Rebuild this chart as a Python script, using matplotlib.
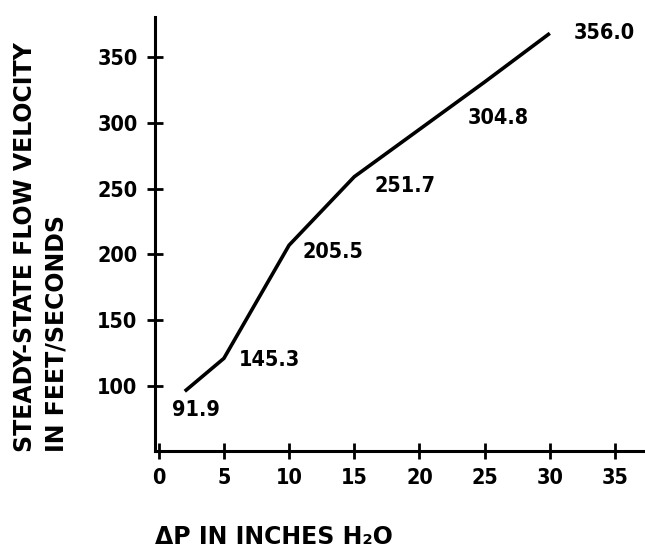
import matplotlib
matplotlib.use("Agg")
import matplotlib.pyplot as plt

# pressure drop (inches H2O) vs steady-state velocity (ft/s)
dp = [2, 5, 10, 15, 20, 25, 30]
velocity = [96, 121, 207, 259, 295, 331, 368]

# printed value labels and which point each one sits next to
label_text = ["91.9", "145.3", "205.5", "251.7", "304.8", "356.0"]
label_at = [0, 1, 2, 3, 5, 6]
label_offset = [(11, -19), (46, -2), (44, -7), (51, -9), (14, -36), (54, 0)]

x_ticks = [0, 5, 10, 15, 20, 25, 30, 35]
y_ticks = [100, 150, 200, 250, 300, 350]

font = dict(family="DejaVu Sans", weight="bold")

fig = plt.figure(figsize=(6.45, 5.48), dpi=100)
ax = fig.add_axes([0.240, 0.177, 0.760, 0.792])

ax.plot(dp, velocity, color="black", linewidth=2.6, solid_capstyle="butt")

for txt, i, off in zip(label_text, label_at, label_offset):
    ax.annotate(txt, (dp[i], velocity[i]), xytext=off, textcoords="offset pixels",
                ha="center", va="center", fontsize=15.5, fontstretch="condensed", **font)

ax.set_xlim(-0.3, 37.3)
ax.set_ylim(50.6, 380.4)
ax.set_xticks(x_ticks)
ax.set_yticks(y_ticks)

for s in ["top", "right"]:
    ax.spines[s].set_visible(False)
for s in ["left", "bottom"]:
    ax.spines[s].set_linewidth(2.2)

ax.tick_params(direction="inout", length=11, width=2.0, pad=7, labelsize=15.5)
for lab in ax.get_xticklabels() + ax.get_yticklabels():
    lab.set_fontweight("bold")
    lab.set_fontstretch("condensed")

fig.text(25 / 645, 1 - 452 / 548, "STEADY-STATE FLOW VELOCITY", rotation=90,
         ha="center", va="bottom", fontsize=17, **font)
fig.text(57 / 645, 1 - 452 / 548, "IN FEET/SECONDS", rotation=90,
         ha="center", va="bottom", fontsize=17, **font)
fig.text(155 / 645, 1 - 537 / 548, "ΔP IN INCHES H₂O", ha="left", va="center",
         fontsize=17, **font)

fig.savefig("out.png", dpi=100)
